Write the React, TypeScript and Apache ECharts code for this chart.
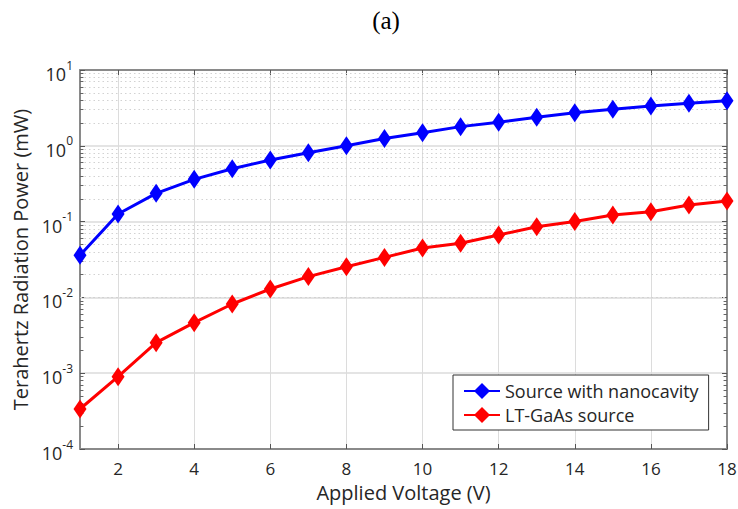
import React, { useEffect, useRef } from "react";
import * as echarts from "echarts";

// Applied bias voltage (V)
const voltage = [1, 2, 3, 4, 5, 6, 7, 8, 9, 10, 11, 12, 13, 14, 15, 16, 17, 18];
// Terahertz radiation power (mW)
const nanocavity = [0.036, 0.126, 0.236, 0.361, 0.499, 0.65, 0.81, 1.0, 1.25, 1.49, 1.79, 2.04, 2.38, 2.73, 3.03, 3.35, 3.63, 3.94];
const ltGaAs = [3.37e-4, 9.0e-4, 2.53e-3, 4.64e-3, 8.18e-3, 0.0129, 0.0188, 0.0254, 0.0337, 0.0449, 0.0518, 0.0665, 0.0857, 0.1, 0.122, 0.135, 0.166, 0.187];

const seriesNames = ["Source with nanocavity", "LT-GaAs source"];
const xTicks = [2, 4, 6, 8, 10, 12, 14, 16, 18];
const decades = [-4, -3, -2, -1, 0];
const minorSteps = [2, 3, 4, 5, 6, 7, 8, 9];

const FONT = "Open Sans";
const TEXT = "#262626";
const AXIS = "#8a8a8a";

export default function App() {
  const ref = useRef<HTMLDivElement>(null);

  useEffect(() => {
    if (!ref.current) return;
    const chart = echarts.init(ref.current, null, { renderer: "svg" });

    const xMin = voltage[0];
    const xMax = voltage[voltage.length - 1];
    const minorValues: number[] = [];
    decades.forEach((d) => minorSteps.forEach((k) => minorValues.push(k * Math.pow(10, d))));

    // dotted minor grid at 2..9 of every decade
    const minorGrid = minorValues.map((v) => ({ yAxis: v }));
    // short minor ticks along the left and right frame
    const tickLen = 0.09;
    const minorTicks: any[] = [];
    minorValues.forEach((v) => {
      minorTicks.push([{ coord: [xMin, v] }, { coord: [xMin + tickLen, v] }]);
      minorTicks.push([{ coord: [xMax - tickLen, v] }, { coord: [xMax, v] }]);
    });

    const yLabel = (v: number) => {
      const e = Math.round(Math.log10(v));
      return `{b|10}{s|${e}}`;
    };

    chart.setOption({
      animation: false,
      textStyle: { fontFamily: FONT },
      grid: { left: 80, right: 11, top: 70, bottom: 60, show: false, outerBoundsMode: "none" },
      graphic: [
        {
          type: "text",
          x: 386,
          y: 20,
          style: {
            text: "(a)",
            font: "25px 'Liberation Serif'",
            fill: "#000",
            textAlign: "center",
            textVerticalAlign: "middle",
          },
        },
      ],
      legend: {
        data: seriesNames,
        orient: "vertical",
        left: 453,
        top: 375,
        itemWidth: 36,
        itemHeight: 20,
        itemGap: 6,
        padding: [7, 10, 6, 10],
        borderColor: "#333",
        borderWidth: 1,
        backgroundColor: "#fff",
        textStyle: { fontSize: 18, color: TEXT, fontFamily: FONT },
      },
      xAxis: [
        {
          type: "value",
          min: xMin,
          max: xMax,
          interval: 1,
          name: "Applied Voltage (V)",
          nameLocation: "middle",
          nameGap: 33,
          nameTextStyle: { fontSize: 20, color: TEXT, fontFamily: FONT },
          axisLine: { show: true, lineStyle: { color: AXIS, width: 2 } },
          axisTick: { show: true, inside: true, length: 5, customValues: xTicks, lineStyle: { color: "#555" } },
          axisLabel: { customValues: xTicks, fontSize: 17, color: TEXT, margin: 11, fontFamily: FONT },
          splitLine: { show: true, lineStyle: { color: "#dcdcdc", width: 1 } },
        },
        {
          type: "value",
          position: "top",
          min: xMin,
          max: xMax,
          interval: 1,
          axisLine: { show: true, lineStyle: { color: AXIS, width: 2 } },
          axisTick: { show: true, inside: true, length: 5, customValues: xTicks, lineStyle: { color: "#555" } },
          axisLabel: { show: false },
          splitLine: { show: false },
        },
      ],
      yAxis: [
        {
          type: "log",
          logBase: 10,
          min: 1e-4,
          max: 10,
          name: "Terahertz Radiation Power (mW)",
          nameLocation: "middle",
          nameGap: 48,
          nameTextStyle: { fontSize: 20, color: TEXT, fontFamily: FONT },
          axisLine: { show: true, lineStyle: { color: AXIS, width: 2 } },
          axisTick: { show: true, inside: true, length: 5, lineStyle: { color: "#555" } },
          axisLabel: {
            formatter: yLabel,
            margin: 7,
            rich: {
              b: { fontSize: 18, color: TEXT, fontFamily: FONT, padding: [8, 0, 0, 0] },
              s: { fontSize: 12, color: TEXT, fontFamily: FONT, padding: [0, 0, 10, 0] },
            },
          },
          splitLine: { show: true, lineStyle: { color: "#e4e4e4", width: 2 } },
        },
        {
          type: "log",
          logBase: 10,
          min: 1e-4,
          max: 10,
          position: "right",
          axisLine: { show: true, lineStyle: { color: AXIS, width: 2 } },
          axisTick: { show: true, inside: true, length: 5, lineStyle: { color: "#555" } },
          axisLabel: { show: false },
          splitLine: { show: false },
        },
      ],
      series: [
        {
          name: "minor-grid",
          type: "line",
          data: [],
          silent: true,
          markLine: {
            silent: true,
            symbol: ["none", "none"],
            label: { show: false },
            lineStyle: { color: "#d2d2d2", type: [1.5, 3], width: 1 },
            data: minorGrid,
          },
        },
        {
          name: "minor-ticks",
          type: "line",
          data: [],
          silent: true,
          markLine: {
            silent: true,
            symbol: ["none", "none"],
            label: { show: false },
            lineStyle: { color: "#666", type: "solid", width: 1 },
            data: minorTicks,
          },
        },
        {
          name: seriesNames[1],
          type: "line",
          data: voltage.map((v, i) => [v, ltGaAs[i]]),
          symbol: "diamond",
          symbolSize: [13, 19],
          lineStyle: { color: "#ff0000", width: 3 },
          itemStyle: { color: "#ff0000" },
          z: 5,
        },
        {
          name: seriesNames[0],
          type: "line",
          data: voltage.map((v, i) => [v, nanocavity[i]]),
          symbol: "diamond",
          symbolSize: [13, 19],
          lineStyle: { color: "#0000ff", width: 3 },
          itemStyle: { color: "#0000ff" },
          z: 5,
        },
      ],
    });

    return () => chart.dispose();
  }, []);

  return <div ref={ref} style={{ width: 738, height: 509, position: "absolute", left: 0, top: 0 }} />;
}
